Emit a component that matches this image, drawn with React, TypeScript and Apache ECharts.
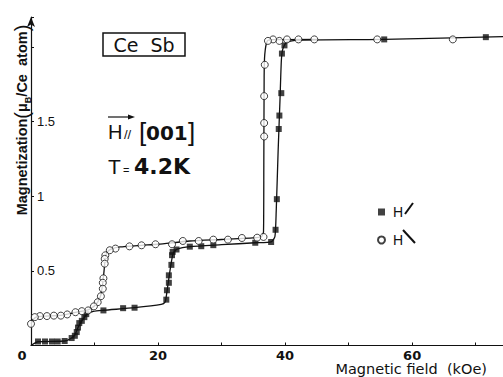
import React, { useEffect, useRef } from "react";
import * as echarts from "echarts";

// Magnetization of CeSb at 4.2 K, field along [001]
// Increasing field (filled squares): [field kOe, moment μB/Ce]
const risingPoints: [number, number][] = [
  [1.1, 0.027], [2.2, 0.027], [3.3, 0.027], [4.2, 0.027], [5.3, 0.03],
  [6.4, 0.05], [6.9, 0.065], [7.2, 0.09], [7.4, 0.12], [7.6, 0.15],
  [8.0, 0.165], [8.4, 0.19], [8.7, 0.21], [11.4, 0.235], [14.5, 0.25],
  [16.3, 0.253], [21.3, 0.307], [21.4, 0.37], [21.7, 0.42], [21.7, 0.47],
  [22.1, 0.54], [22.2, 0.605], [22.3, 0.627], [22.9, 0.643], [25.0, 0.662],
  [26.8, 0.665], [28.7, 0.672], [35.3, 0.688], [37.8, 0.693], [38.5, 0.775],
  [38.7, 0.98], [39.0, 1.45], [39.1, 1.54], [39.4, 1.69], [39.5, 1.955],
  [39.9, 2.01], [55.6, 2.05], [71.6, 2.065],
];

// Decreasing field (open circles)
const fallingPoints: [number, number][] = [
  [66.4, 2.05], [54.5, 2.05], [44.6, 2.05], [42.1, 2.05], [40.3, 2.05],
  [39.1, 2.04], [38.1, 2.05], [37.3, 2.04], [36.8, 1.88], [36.7, 1.67],
  [36.7, 1.49], [36.7, 1.4], [36.6, 0.727], [35.6, 0.722], [33.2, 0.72],
  [31.0, 0.709], [28.7, 0.709], [26.4, 0.7], [23.9, 0.7], [22.2, 0.678],
  [19.6, 0.678], [17.4, 0.671], [15.5, 0.664], [13.3, 0.649], [12.4, 0.638],
  [11.7, 0.604], [11.6, 0.58], [11.6, 0.548], [11.4, 0.45], [11.3, 0.42],
  [11.3, 0.38], [11.0, 0.33], [10.5, 0.29], [9.9, 0.262], [9.0, 0.235],
  [8.0, 0.23], [7.0, 0.223], [5.7, 0.208], [4.7, 0.2], [3.6, 0.2],
  [2.5, 0.197], [1.4, 0.197], [0.6, 0.19], [0.0, 0.145],
];

// Guide curves drawn through each branch
const risingCurve: [number, number][] = [
  [0, 0], [1.1, 0.025], [5.3, 0.03], [6.2, 0.045], [6.9, 0.07], [7.4, 0.12],
  [8.0, 0.165], [8.7, 0.205], [9.8, 0.228], [11.4, 0.236], [16.3, 0.253],
  [20.5, 0.275], [21.1, 0.29], [21.3, 0.33], [21.7, 0.45], [22.1, 0.56],
  [22.4, 0.62], [23.0, 0.645], [25.0, 0.662], [30.0, 0.675], [35.3, 0.688],
  [37.8, 0.694], [38.4, 0.73], [38.6, 0.9], [38.9, 1.3], [39.2, 1.65],
  [39.4, 1.9], [39.6, 1.98], [40.2, 2.03], [42.0, 2.045], [55.6, 2.05],
  [74.3, 2.068],
];

const fallingCurve: [number, number][] = [
  [45.0, 2.05], [38.0, 2.048], [37.2, 2.04], [36.8, 1.95], [36.7, 1.8],
  [36.65, 1.2], [36.6, 0.76], [36.3, 0.73], [35.5, 0.722], [30.0, 0.71],
  [25.0, 0.7], [20.0, 0.678], [17.4, 0.671], [14.0, 0.66], [12.6, 0.645],
  [12.0, 0.625], [11.7, 0.59], [11.5, 0.5], [11.3, 0.42], [11.0, 0.34],
  [10.5, 0.29], [9.9, 0.262], [9.0, 0.238], [7.0, 0.222], [4.7, 0.202],
  [2.0, 0.197], [0.8, 0.19], [0.3, 0.17], [0.0, 0.145],
];

const xLabelled = [0, 20, 40, 60];
const yLabelled = [0.5, 1, 1.5];

const INK = "#111";

export default function App() {
  const ref = useRef<HTMLDivElement>(null);

  useEffect(() => {
    document.body.style.margin = "0";
    if (!ref.current) return;
    const chart = echarts.init(ref.current, undefined, { renderer: "svg" });

    const option: any = {
      animation: false,
      backgroundColor: "#fff",
      grid: { left: 31, right: 0, top: 17, bottom: 31.5 },
      xAxis: {
        type: "value",
        min: 0,
        max: 74.3,
        interval: 10,
        splitLine: { show: false },
        axisLine: { lineStyle: { color: INK, width: 1.2 } },
        axisTick: { inside: true, length: 3, lineStyle: { color: INK } },
        axisLabel: {
          margin: 3,
          color: INK,
          fontFamily: "DejaVu Sans",
          fontWeight: "bold",
          fontSize: 13,
          lineHeight: 13,
          showMaxLabel: false,
          formatter: (v: number) => {
            if (!xLabelled.includes(v)) return "";
            return v === 0 ? "{z|0}" : String(v);
          },
          rich: {
            z: {
              padding: [0, 18, 0, 0],
              fontFamily: "DejaVu Sans",
              fontWeight: "bold",
              fontSize: 13,
              lineHeight: 13,
              color: INK,
            },
          },
        },
      },
      yAxis: {
        type: "value",
        min: 0,
        max: 2.2,
        interval: 0.5,
        splitLine: { show: false },
        axisLine: {
          lineStyle: { color: INK, width: 1.2 },
          symbol: ["none", "arrow"],
          symbolSize: [6, 10],
        },
        axisTick: { inside: true, length: 3, lineStyle: { color: INK } },
        axisLabel: {
          inside: true,
          margin: 6,
          color: INK,
          fontFamily: "Liberation Sans",
          fontSize: 13,
          formatter: (v: number) => (yLabelled.includes(v) ? String(v) : ""),
        },
      },
      legend: {
        orient: "vertical",
        left: 372,
        top: 200,
        itemWidth: 7,
        itemHeight: 7,
        itemGap: 14,
        textStyle: {
          color: INK,
          fontFamily: "Liberation Sans",
          fontSize: 14,
          padding: [0, 0, 0, 3],
        },
        formatter: () => "H",
        data: [
          { name: "increasing", icon: "rect" },
          { name: "decreasing", icon: "circle" },
        ],
      },
      series: [
        {
          type: "line",
          name: "rising curve",
          data: risingCurve,
          showSymbol: false,
          smooth: 0.2,
          lineStyle: { color: INK, width: 1.3 },
          silent: true,
          z: 2,
        },
        {
          type: "line",
          name: "falling curve",
          data: fallingCurve,
          showSymbol: false,
          smooth: 0.2,
          lineStyle: { color: INK, width: 1.3 },
          silent: true,
          z: 2,
        },
        {
          type: "scatter",
          name: "increasing",
          data: risingPoints,
          symbol: "rect",
          symbolSize: 6,
          itemStyle: { color: INK },
          z: 3,
        },
        {
          type: "scatter",
          name: "decreasing",
          data: fallingPoints,
          symbol: "circle",
          symbolSize: 7,
          itemStyle: { color: "#fff", borderColor: INK, borderWidth: 1 },
          z: 4,
        },
      ],
      graphic: [
        // compound label in a box
        {
          type: "rect",
          shape: { x: 103, y: 33, width: 82, height: 23 },
          style: { fill: "none", stroke: INK, lineWidth: 1.5 },
        },
        {
          type: "text",
          x: 144,
          y: 45,
          style: {
            text: "Ce  Sb",
            fill: INK,
            font: 'normal 19px "DejaVu Sans"',
            align: "center",
            verticalAlign: "middle",
          },
        },
        // field direction: vector H parallel to [001]
        {
          type: "line",
          shape: { x1: 108, y1: 117, x2: 132, y2: 117 },
          style: { stroke: INK, lineWidth: 1.2 },
        },
        {
          type: "polygon",
          shape: { points: [[135, 117], [128, 114.5], [128, 119.5]] },
          style: { fill: INK },
        },
        {
          type: "text",
          x: 108,
          y: 132,
          style: {
            text: "H",
            fill: INK,
            font: 'normal 20px "Liberation Sans"',
            align: "left",
            verticalAlign: "middle",
          },
        },
        {
          type: "text",
          x: 124,
          y: 134,
          style: {
            text: "//",
            fill: INK,
            font: 'normal 13px "Liberation Sans"',
            align: "left",
            verticalAlign: "middle",
          },
        },
        {
          type: "text",
          x: 139,
          y: 132,
          style: {
            text: "[",
            fill: INK,
            font: 'normal 26px "Liberation Sans"',
            align: "left",
            verticalAlign: "middle",
          },
        },
        {
          type: "text",
          x: 146,
          y: 133,
          style: {
            text: "001",
            fill: INK,
            font: 'bold 20px "DejaVu Sans"',
            align: "left",
            verticalAlign: "middle",
          },
        },
        {
          type: "text",
          x: 188,
          y: 132,
          style: {
            text: "]",
            fill: INK,
            font: 'normal 26px "Liberation Sans"',
            align: "left",
            verticalAlign: "middle",
          },
        },
        // temperature
        {
          type: "text",
          x: 108,
          y: 166,
          style: {
            text: "T",
            fill: INK,
            font: 'normal 21px "Liberation Sans"',
            align: "left",
            verticalAlign: "middle",
          },
        },
        {
          type: "text",
          x: 123,
          y: 170,
          style: {
            text: "=",
            fill: INK,
            font: 'normal 11px "Liberation Sans"',
            align: "left",
            verticalAlign: "middle",
          },
        },
        {
          type: "text",
          x: 134,
          y: 166,
          style: {
            text: "4.2K",
            fill: INK,
            font: 'bold 22px "DejaVu Sans"',
            align: "left",
            verticalAlign: "middle",
          },
        },
        // sweep direction strokes next to the legend entries
        {
          type: "line",
          shape: { x1: 405, y1: 214, x2: 413, y2: 203 },
          style: { stroke: INK, lineWidth: 2 },
        },
        {
          type: "line",
          shape: { x1: 403, y1: 230, x2: 415, y2: 243 },
          style: { stroke: INK, lineWidth: 2 },
        },
        // axis titles
        {
          type: "text",
          x: 487,
          y: 376,
          style: {
            text: "Magnetic field  (kOe)",
            fill: INK,
            font: 'normal 14.5px "DejaVu Sans"',
            lineHeight: 14,
            align: "right",
            verticalAlign: "bottom",
          },
        },
        {
          type: "text",
          x: 22,
          y: 120,
          rotation: Math.PI / 2,
          style: {
            text: "{m|Magnetization}{p|(}{mu|μ}{sub|B}{m|/Ce  atom}{p|)}",
            fill: INK,
            align: "center",
            verticalAlign: "middle",
            rich: {
              m: { font: 'bold 14.5px "Liberation Sans"', fill: INK },
              p: { font: 'normal 20px "Liberation Sans"', fill: INK },
              mu: { font: 'bold 14.5px "Liberation Sans"', fill: INK },
              sub: {
                font: 'bold 9px "Liberation Sans"',
                fill: INK,
                verticalAlign: "bottom",
              },
            },
          },
        },
      ],
    };

    chart.setOption(option);
    return () => chart.dispose();
  }, []);

  return <div ref={ref} style={{ width: 503, height: 377 }} />;
}
